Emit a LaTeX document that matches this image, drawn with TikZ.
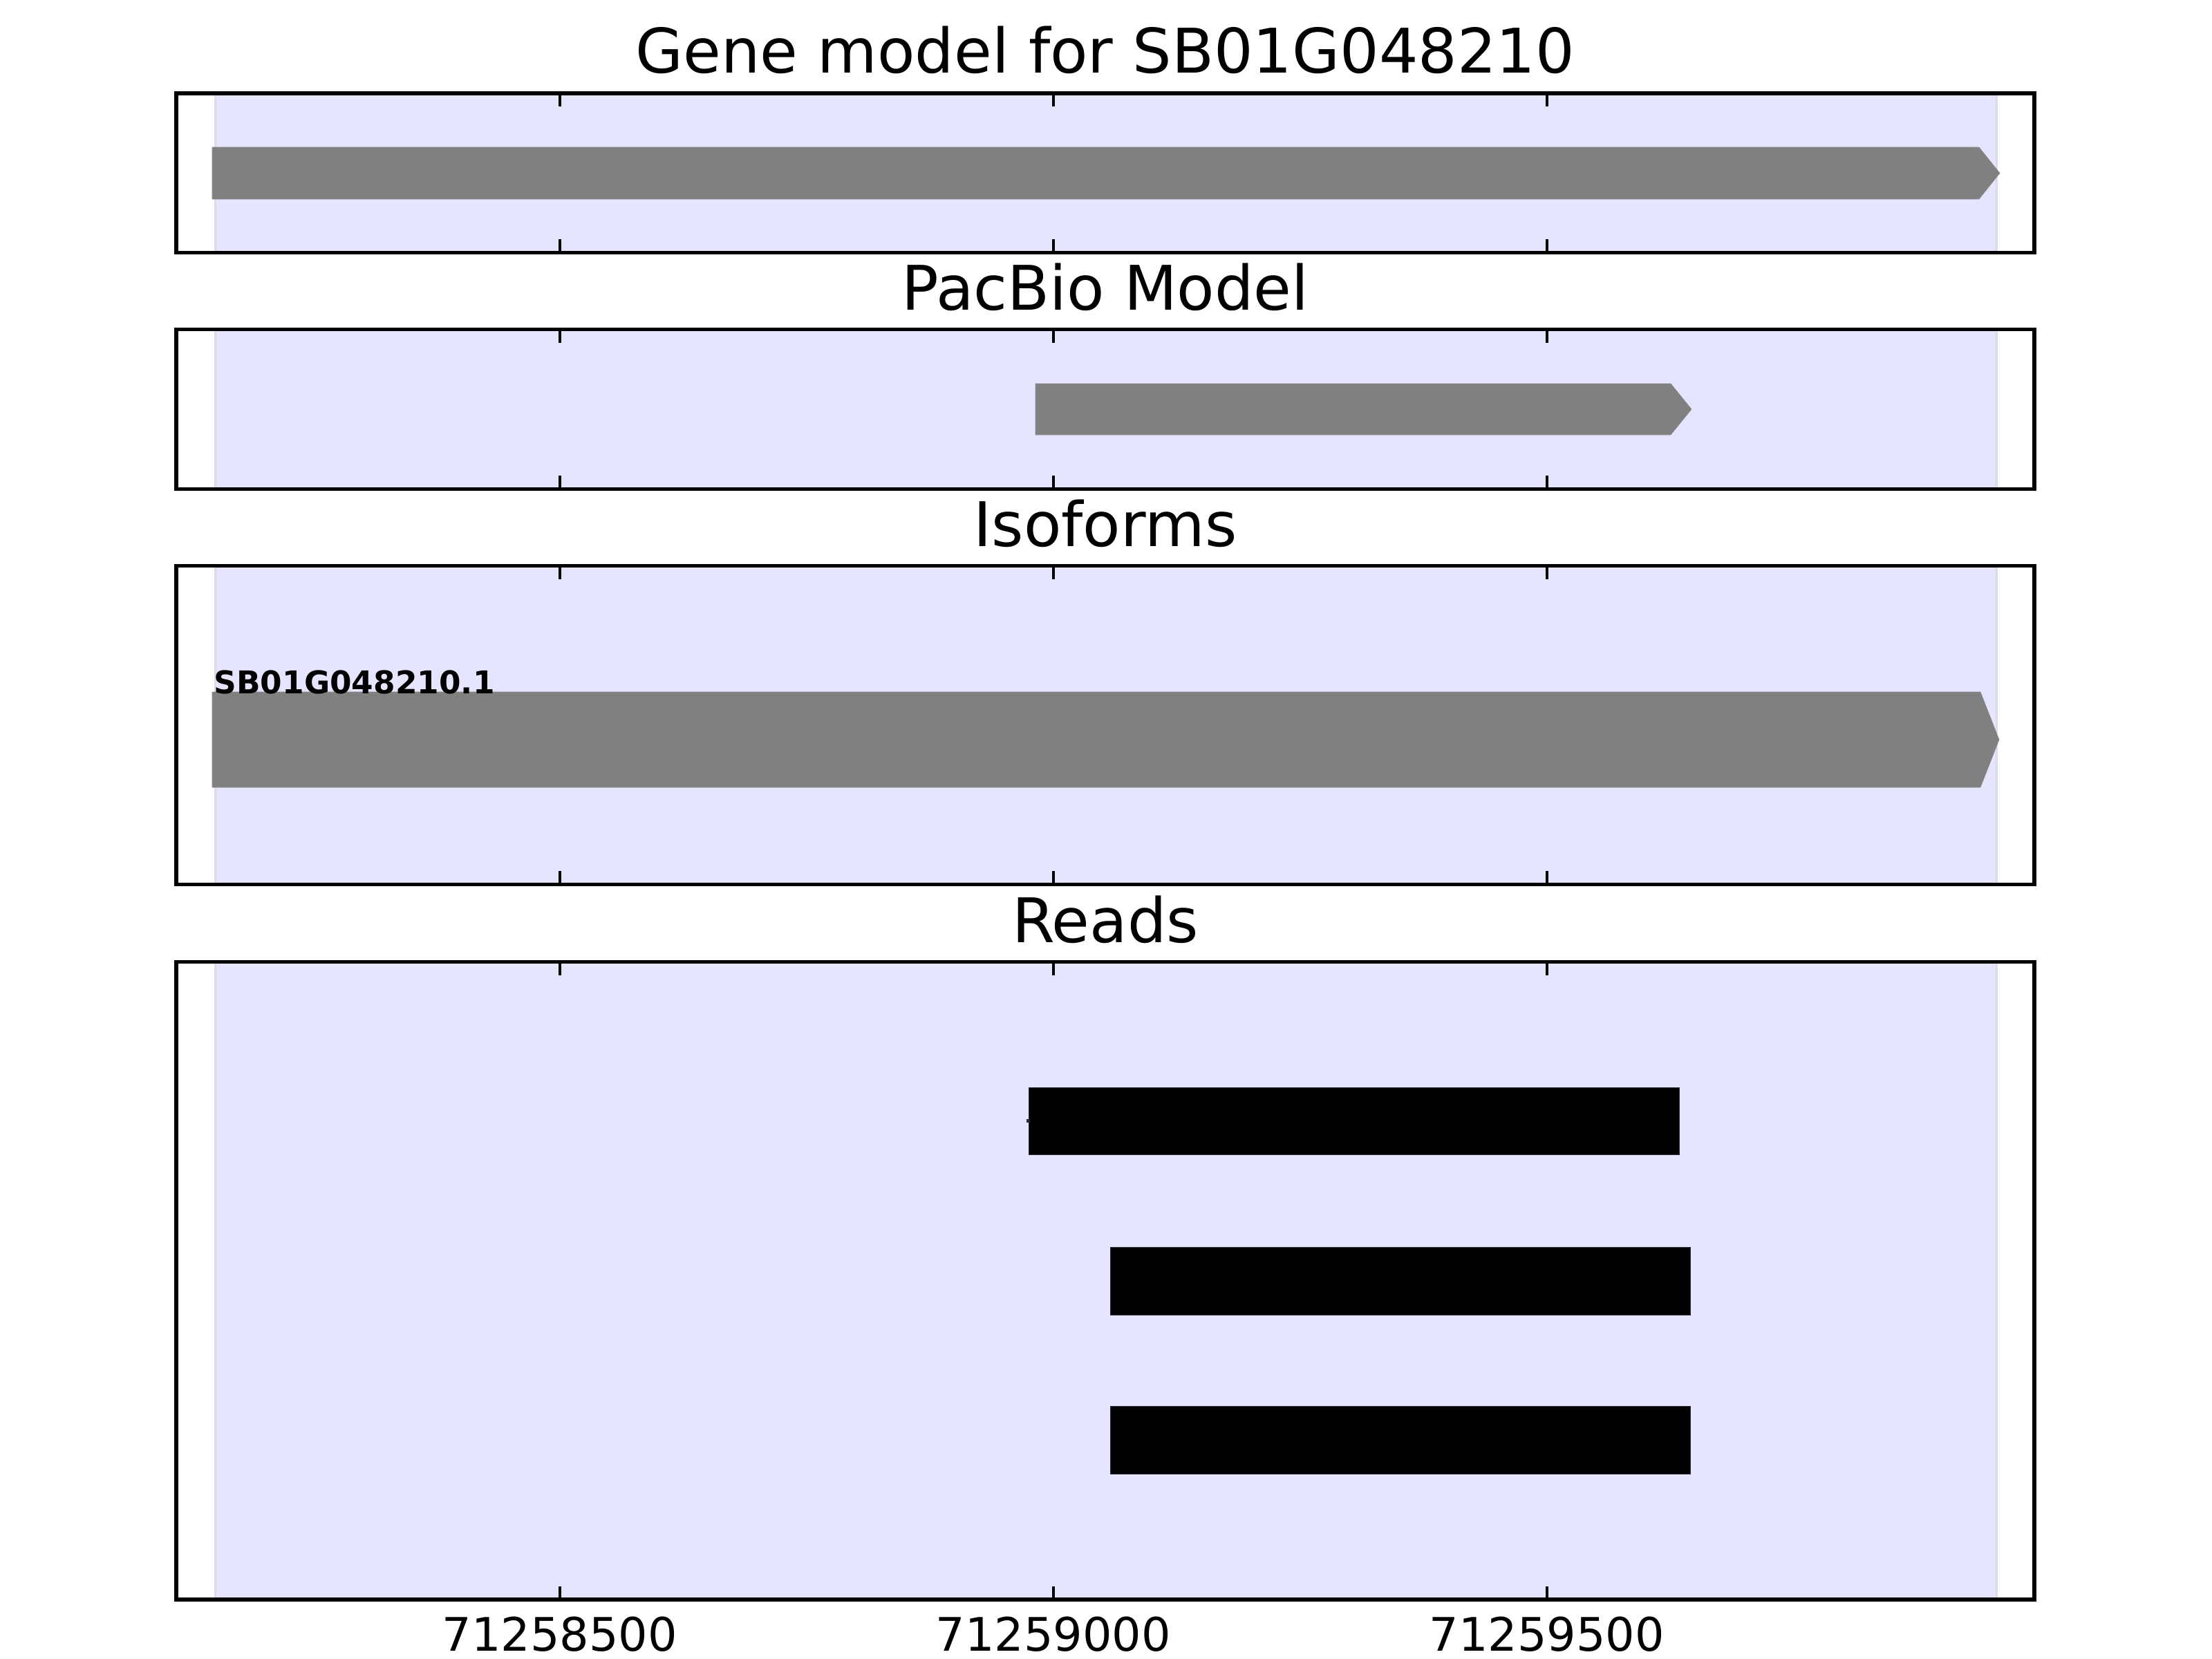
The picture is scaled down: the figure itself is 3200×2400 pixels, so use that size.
\documentclass[tikz,border=0pt]{standalone}
\usepackage{fontspec}
\setmainfont{DejaVu Sans}
\definecolor{spanfill}{RGB}{229,229,255}
\definecolor{spanedge}{RGB}{218,218,236}
\definecolor{genegray}{RGB}{128,128,128}
\definecolor{geneedge}{RGB}{140,140,150}
\definecolor{readedge}{RGB}{40,40,55}
\begin{document}
\begin{tikzpicture}[x=0.01cm,y=-0.01cm,
  axbox/.style={draw=black,line width=0.055cm},
  span/.style={fill=spanfill,draw=spanedge,line width=0.03cm},
  gene/.style={fill=genegray,draw=geneedge,line width=0.006cm},
  readbar/.style={fill=black,draw=readedge,line width=0.006cm},
  tickmark/.style={black,line width=0.045cm},
  ttl/.style={font=\fontsize{25.3}{30}\selectfont,anchor=base,inner sep=0},
  ticklab/.style={font=\fontsize{19}{22}\selectfont,anchor=base,inner sep=0},
  isolab/.style={font=\bfseries\fontsize{12.9}{15}\selectfont,anchor=base west,inner sep=0}]
\useasboundingbox (0,0) rectangle (3200,2400);
\fill[white] (0,0) rectangle (3200,2400);
% shaded spans
\foreach \t/\b in {135/365.5, 476.7/707.7, 818.7/1279.7, 1391.7/2314} {
  \draw[span] (311,\t) rectangle (2888,\b);
}
% gene model
\path[gene] (307,213) -- (2863,213) -- (2893,250.5) -- (2863,288) -- (307,288) -- cycle;
% pacbio model
\path[gene] (1498,555) -- (2417,555) -- (2447,592) -- (2417,629) -- (1498,629) -- cycle;
% isoform
\path[gene] (307,1001) -- (2865,1001) -- (2892,1070) -- (2865,1139) -- (307,1139) -- cycle;
\node[isolab] (iso) at (309,1003) {SB01G048210.1};
% reads
\path[readbar] (1488,1573) rectangle (2429,1670);
\draw[readedge,line width=0.05cm] (1485,1621.5) -- (1490,1621.5);
\path[readbar] (1606,1804) rectangle (2445,1902);
\path[readbar] (1606,2034) rectangle (2445,2132);
% axes and ticks
\foreach \t/\b in {135/365.5, 476.7/707.7, 818.7/1279.7, 1391.7/2314} {
  \foreach \x in {810,1524,2238} {
    \draw[tickmark] (\x,\t) -- ++(0,19.5);
    \draw[tickmark] (\x,\b) -- ++(0,-19.5);
  }
  \draw[axbox] (255,\t) rectangle (2943,\b);
}
% titles
\node[ttl] (t1) at (1599,106) {Gene model for SB01G048210};
\node[ttl] (t2) at (1599,448) {PacBio Model};
\node[ttl] (t3) at (1599,790) {Isoforms};
\node[ttl] (t4) at (1599,1363) {Reads};
% tick labels
\node[ticklab] (l1) at (810,2388) {71258500};
\node[ticklab] (l2) at (1524,2388) {71259000};
\node[ticklab] (l3) at (2238,2388) {71259500};
\end{tikzpicture}
\end{document}
